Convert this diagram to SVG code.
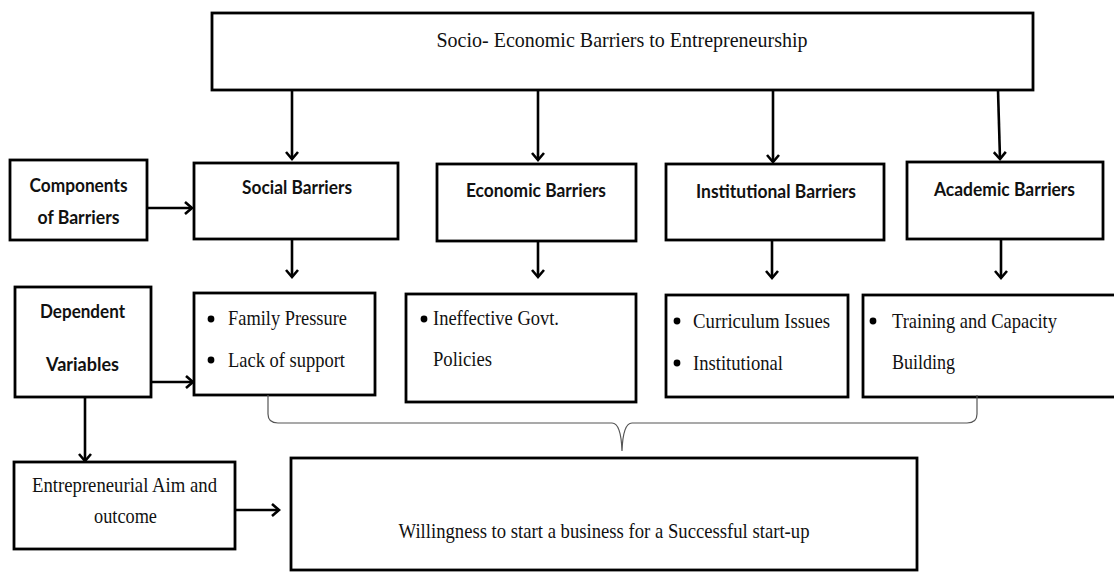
<svg xmlns="http://www.w3.org/2000/svg" width="1114" height="572" viewBox="0 0 1114 572">
<defs>
<marker id="arr" viewBox="0 0 14 14" refX="12" refY="7" markerWidth="14" markerHeight="14" markerUnits="userSpaceOnUse" orient="auto">
<path d="M5,1 L12,7 L5,13" fill="none" stroke="#000" stroke-width="2.6"/>
</marker>
<style>
.box{fill:#fff;stroke:#000;stroke-width:2.8}
.sans{font-family:Lato,"Liberation Sans",Arial,sans-serif;font-weight:700;font-size:18.5px;fill:#111}
.serif{font-family:"Liberation Serif","Times New Roman",serif;font-size:22px;fill:#111}
.mid{text-anchor:middle}
.conn line{stroke:#000;stroke-width:2.6;marker-end:url(#arr)}
.brace{fill:none;stroke:#555;stroke-width:1.2}
.dot{fill:#000}
</style>
</defs>
<rect width="1114" height="572" fill="#fff"/>

<g id="node-top">
<rect class="box" x="212" y="13" width="821" height="77"/>
<text class="serif mid" x="622" y="47" textLength="371" lengthAdjust="spacingAndGlyphs">Socio- Economic Barriers to Entrepreneurship</text>
</g>

<g id="node-components">
<rect class="box" x="10" y="160" width="137" height="80"/>
<text class="sans mid" x="78.5" y="192" textLength="98" lengthAdjust="spacingAndGlyphs">Components</text>
<text class="sans mid" x="78.5" y="224" textLength="82" lengthAdjust="spacingAndGlyphs">of Barriers</text>
</g>

<g id="node-social">
<rect class="box" x="194" y="163" width="204" height="76"/>
<text class="sans mid" x="297" y="194" textLength="110" lengthAdjust="spacingAndGlyphs">Social Barriers</text>
</g>

<g id="node-economic">
<rect class="box" x="437" y="164" width="199" height="77"/>
<text class="sans mid" x="536" y="197" textLength="140" lengthAdjust="spacingAndGlyphs">Economic Barriers</text>
</g>

<g id="node-institutional">
<rect class="box" x="666" y="164" width="218" height="76"/>
<text class="sans mid" x="776" y="198" textLength="160" lengthAdjust="spacingAndGlyphs">Institutional Barriers</text>
</g>

<g id="node-academic">
<rect class="box" x="907" y="162" width="196" height="77"/>
<text class="sans mid" x="1004.5" y="196" textLength="141" lengthAdjust="spacingAndGlyphs">Academic Barriers</text>
</g>

<g id="node-dependent">
<rect class="box" x="15" y="287" width="136" height="110"/>
<text class="sans mid" x="82.5" y="318" textLength="85" lengthAdjust="spacingAndGlyphs">Dependent</text>
<text class="sans mid" x="82.5" y="371" textLength="73" lengthAdjust="spacingAndGlyphs">Variables</text>
</g>

<g id="node-social-items">
<rect class="box" x="194" y="293" width="181" height="102"/>
<circle class="dot" cx="211" cy="319" r="3.4"/>
<circle class="dot" cx="211" cy="360" r="3.4"/>
<text class="serif" x="228" y="325" textLength="119" lengthAdjust="spacingAndGlyphs">Family Pressure</text>
<text class="serif" x="228" y="367" textLength="117" lengthAdjust="spacingAndGlyphs">Lack of support</text>
</g>

<g id="node-economic-items">
<rect class="box" x="406" y="294" width="230" height="108"/>
<circle class="dot" cx="424" cy="319" r="3.4"/>
<text class="serif" x="433" y="325" textLength="126" lengthAdjust="spacingAndGlyphs">Ineffective Govt.</text>
<text class="serif" x="433" y="366" textLength="59" lengthAdjust="spacingAndGlyphs">Policies</text>
</g>

<g id="node-institutional-items">
<rect class="box" x="666" y="295" width="182" height="102"/>
<circle class="dot" cx="677" cy="321" r="3.4"/>
<circle class="dot" cx="677" cy="363" r="3.4"/>
<text class="serif" x="693" y="328" textLength="137" lengthAdjust="spacingAndGlyphs">Curriculum Issues</text>
<text class="serif" x="693" y="370" textLength="90" lengthAdjust="spacingAndGlyphs">Institutional</text>
</g>

<g id="node-academic-items">
<rect class="box" x="863" y="295" width="260" height="102"/>
<circle class="dot" cx="873" cy="321" r="3.4"/>
<text class="serif" x="892" y="328" textLength="165" lengthAdjust="spacingAndGlyphs">Training and Capacity</text>
<text class="serif" x="892" y="369" textLength="63" lengthAdjust="spacingAndGlyphs">Building</text>
</g>

<g id="node-aim">
<rect class="box" x="14" y="462" width="221" height="87"/>
<text class="serif mid" x="124.5" y="492" textLength="185" lengthAdjust="spacingAndGlyphs">Entrepreneurial Aim and</text>
<text class="serif mid" x="125.5" y="523" textLength="63" lengthAdjust="spacingAndGlyphs">outcome</text>
</g>

<g id="node-willingness">
<rect class="box" x="291" y="458" width="626" height="112"/>
<text class="serif mid" x="604" y="538" textLength="411" lengthAdjust="spacingAndGlyphs">Willingness to start a business for a Successful start-up</text>
</g>

<g id="connectors" class="conn">
<line x1="292" y1="90" x2="292" y2="159"/>
<line x1="538" y1="90" x2="538" y2="160"/>
<line x1="773" y1="90" x2="773" y2="162"/>
<line x1="998" y1="90" x2="1000" y2="159"/>
<line x1="147" y1="208" x2="192" y2="208"/>
<line x1="292" y1="239" x2="292" y2="277"/>
<line x1="538" y1="241" x2="538" y2="277"/>
<line x1="772" y1="240" x2="772" y2="278"/>
<line x1="1001" y1="239" x2="1001" y2="278"/>
<line x1="151" y1="382" x2="193" y2="382"/>
<line x1="85" y1="397" x2="85" y2="461"/>
<line x1="235" y1="510" x2="279" y2="510"/>
<path class="brace" d="M268,395 L268,414 Q268,423 278,423 L612,423 Q621,423 622,451 Q623,423 632,423 L967,423 Q977,423 977,414 L977,395"/>
</g>
</svg>
